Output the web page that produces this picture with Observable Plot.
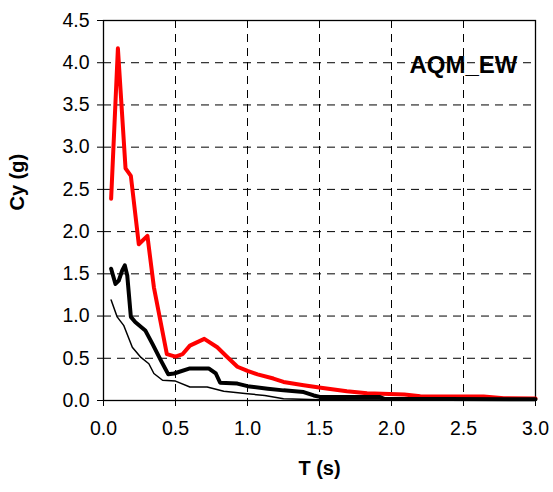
<!DOCTYPE html>
<html>
<head>
<meta charset="utf-8">
<script src="https://cdn.jsdelivr.net/npm/d3@7"></script>
<script src="https://cdn.jsdelivr.net/npm/@observablehq/plot@0.6"></script>
<style>
  html, body { margin: 0; padding: 0; background: #fff; }
  svg { display: block; }
</style>
</head>
<body>
<div id="chart"></div>
<script>
// Period T (s) and spectral ordinate Cy (g)
const redT  = [0.053,0.10,0.153,0.19,0.245,0.305,0.35,0.44,0.50,0.55,0.60,0.70,0.79,0.85,0.93,1.00,1.07,1.18,1.25,1.39,1.51,1.69,1.83,2.09,2.20,2.64,2.78,3.00];
const redCy = [2.39,4.17,2.75,2.66,1.85,1.95,1.34,0.55,0.52,0.55,0.65,0.73,0.63,0.53,0.40,0.35,0.31,0.26,0.22,0.18,0.15,0.11,0.085,0.07,0.05,0.047,0.028,0.025];

const thickT  = [0.053,0.083,0.106,0.13,0.148,0.165,0.19,0.22,0.29,0.34,0.40,0.45,0.49,0.60,0.73,0.78,0.81,0.93,1.00,1.14,1.25,1.39,1.46,1.51,1.92,1.95,3.00];
const thickCy = [1.56,1.38,1.42,1.54,1.60,1.48,0.99,0.93,0.83,0.67,0.47,0.31,0.32,0.38,0.38,0.32,0.21,0.20,0.17,0.14,0.12,0.10,0.06,0.04,0.04,0.02,0.015];

const thinT  = [0.053,0.095,0.14,0.20,0.26,0.315,0.35,0.41,0.50,0.60,0.72,0.835,1.00,1.12,1.25,1.50,3.00];
const thinCy = [1.19,0.99,0.89,0.63,0.51,0.435,0.32,0.24,0.23,0.16,0.16,0.11,0.08,0.06,0.02,0.01,0.005];

const xTicks = [0,0.5,1.0,1.5,2.0,2.5,3.0];
const yTicks = [0,0.5,1.0,1.5,2.0,2.5,3.0,3.5,4.0,4.5];
const title = "AQM_EW";
const xLabel = "T (s)";
const yLabel = "Cy (g)";

const toRows = (T, C) => T.map((t, i) => ({T: t, Cy: C[i]}));
const red = toRows(redT, redCy);
const thick = toRows(thickT, thickCy);
const thin = toRows(thinT, thinCy);

const font = "Liberation Sans, Arial, sans-serif";

const chart = Plot.plot({
  width: 553,
  height: 492,
  marginLeft: 103,
  marginRight: 18,
  marginTop: 20,
  marginBottom: 92,
  style: {fontFamily: font, fontSize: "19px", color: "#000", background: "#fff"},
  x: {domain: [0, 3], ticks: xTicks},
  y: {domain: [0, 4.5], ticks: yTicks},
  marks: [
    Plot.gridX(xTicks.slice(1, -1), {stroke: "#000", strokeOpacity: 1, strokeDasharray: "8,6", strokeWidth: 1}),
    Plot.gridY(yTicks.slice(1, -1), {stroke: "#000", strokeOpacity: 1, strokeDasharray: "8,6", strokeWidth: 1}),
    Plot.frame({stroke: "#000", strokeWidth: 1.3}),
    Plot.axisX({ticks: xTicks, tickSize: 6, tickPadding: 15, tickFormat: d => d.toFixed(1), label: null, fontSize: 19.5}),
    Plot.axisY({ticks: yTicks, tickSize: 6, tickPadding: 8, tickFormat: d => d.toFixed(1), label: null, fontSize: 19.5}),
    Plot.line(red, {x: "T", y: "Cy", stroke: "#ff0000", strokeWidth: 4, strokeLinejoin: "round"}),
    Plot.line(thin, {x: "T", y: "Cy", stroke: "#000", strokeWidth: 1.5, strokeLinejoin: "round"}),
    Plot.line(thick, {x: "T", y: "Cy", stroke: "#000", strokeWidth: 4, strokeLinejoin: "round"}),
    Plot.text([title], {frameAnchor: "top-right", dx: -18, dy: 45, textAnchor: "end", lineAnchor: "middle", fontWeight: "bold", fontSize: 24}),
    Plot.text([xLabel], {frameAnchor: "bottom", dy: 68, lineAnchor: "middle", fontWeight: "bold", fontSize: 20}),
    Plot.text([yLabel], {frameAnchor: "left", dx: -86, rotate: -90, lineAnchor: "middle", fontWeight: "bold", fontSize: 20})
  ]
});
document.getElementById("chart").appendChild(chart);
</script>
</body>
</html>
